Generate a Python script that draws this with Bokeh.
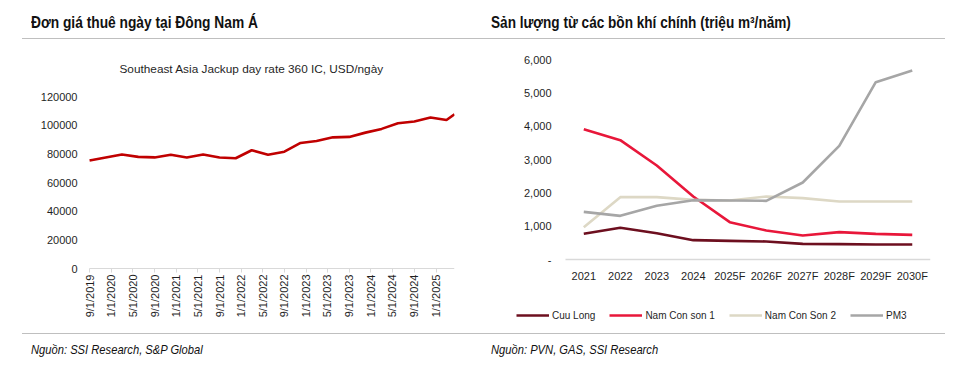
import pandas as pd
from bokeh.plotting import figure
from bokeh.layouts import column, row
from bokeh.models import (Div, Range1d, FixedTicker, BasicTickFormatter,
                          NumeralTickFormatter, Label, Legend, LegendItem)
from bokeh.embed import file_html
from bokeh.resources import INLINE
import math

# ---------------- data ----------------
left_title = "Đơn giá thuê ngày tại Đông Nam Á"
left_subtitle = "Southeast Asia Jackup day rate 360 IC, USD/ngày"
left_source = "Nguồn: SSI Research, S&P Global"
rate_dates = ["2019-09-01", "2019-12-01", "2020-03-01", "2020-06-01", "2020-09-01", "2020-12-01",
              "2021-03-01", "2021-06-01", "2021-09-01", "2021-12-01", "2022-03-01", "2022-06-01",
              "2022-09-01", "2022-12-01", "2023-03-01", "2023-06-01", "2023-09-01", "2023-12-01",
              "2024-03-01", "2024-06-01", "2024-09-01", "2024-12-01", "2025-03-01", "2025-04-15"]
rate_values = [75300, 77500, 79500, 77900, 77500, 79300,
               77500, 79600, 77400, 76900, 82500, 79300,
               81500, 87600, 89000, 91500, 91800, 94800,
               97400, 101300, 102600, 105400, 103600, 107600]
rate_tick_dates = ["2019-09-01", "2020-01-01", "2020-05-01", "2020-09-01", "2021-01-01", "2021-05-01",
                   "2021-09-01", "2022-01-01", "2022-05-01", "2022-09-01", "2023-01-01", "2023-05-01",
                   "2023-09-01", "2024-01-01", "2024-05-01", "2024-09-01", "2025-01-01"]
rate_tick_labels = ["9/1/2019", "1/1/2020", "5/1/2020", "9/1/2020", "1/1/2021", "5/1/2021",
                    "9/1/2021", "1/1/2022", "5/1/2022", "9/1/2022", "1/1/2023", "5/1/2023",
                    "9/1/2023", "1/1/2024", "5/1/2024", "9/1/2024", "1/1/2025"]
rate_y_ticks = [0, 20000, 40000, 60000, 80000, 100000, 120000]

right_title = "Sản lượng từ các bồn khí chính (triệu m³/năm)"
right_source = "Nguồn: PVN, GAS, SSI Research"
years = ["2021", "2022", "2023", "2024", "2025F", "2026F", "2027F", "2028F", "2029F", "2030F"]
cuu_long = [770, 950, 790, 580, 560, 540, 470, 460, 450, 450]
nam_con_son_1 = [3910, 3580, 2820, 1890, 1120, 870, 720, 820, 770, 740]
nam_con_son_2 = [970, 1870, 1870, 1790, 1770, 1890, 1840, 1740, 1740, 1740]
pm3 = [1430, 1310, 1610, 1780, 1770, 1760, 2310, 3410, 5320, 5670]
series_names = ["Cuu Long", "Nam Con son 1", "Nam Con Son 2", "PM3"]
series_values = [cuu_long, nam_con_son_1, nam_con_son_2, pm3]
series_colors = ["#6d0f1f", "#e8173a", "#ddd8c5", "#a6a6a6"]
gas_y_ticks = [0, 1000, 2000, 3000, 4000, 5000, 6000]

FONT = "Liberation Sans"
TXT = "#1f1f1f"
AX = "#d9d9d9"

# Bokeh aligns the frames of plots sharing a row, so both frames span the same
# vertical band; axes are pinned at value 0 with fixed_location.
LEFT_Y = (-39767, 152093)     # 0 at 268 px, 120000 at 96 px (page)
LEFT_X_PAD = -51              # days of white space left of the first tick
RIGHT_Y = (-1980, 6270)       # 0 at 259 px, 6000 at 59 px (page)
RIGHT_X = (-2.282, 9.5)       # category centres 36.5 px apart

# ---------------- left chart ----------------
start = pd.Timestamp(rate_dates[0])
def days(d):
    return (pd.Timestamp(d) - start).days

rx = [days(d) for d in rate_dates]
tx = [days(d) for d in rate_tick_dates]

p1 = figure(width=472, height=294, output_backend="svg", toolbar_location=None,
            x_range=Range1d(LEFT_X_PAD, rx[-1]), y_range=Range1d(*LEFT_Y),
            min_border_left=72, min_border_right=26, min_border_top=11, min_border_bottom=8)
p1.outline_line_color = None
p1.grid.grid_line_color = None
p1.line(rx, rate_values, line_color="#c00000", line_width=2.6)

p1.xaxis.fixed_location = 0
p1.xaxis.bounds = (rx[0], rx[-1])
p1.xaxis.ticker = FixedTicker(ticks=tx)
p1.xaxis.major_label_overrides = {t: l for t, l in zip(tx, rate_tick_labels)}
p1.xaxis.major_label_orientation = math.pi / 2
p1.xaxis.axis_line_color = AX
p1.xaxis.major_tick_line_color = AX
p1.xaxis.major_tick_out = 4
p1.xaxis.major_tick_in = 0
p1.xaxis.minor_tick_line_color = None
p1.xaxis.major_label_standoff = 2
p1.xaxis.major_label_text_font = FONT
p1.xaxis.major_label_text_font_size = "11px"
p1.xaxis.major_label_text_color = TXT

p1.yaxis.ticker = FixedTicker(ticks=rate_y_ticks)
p1.yaxis.formatter = BasicTickFormatter(use_scientific=False)
p1.yaxis.axis_line_color = None
p1.yaxis.major_tick_line_color = None
p1.yaxis.minor_tick_line_color = None
p1.yaxis.major_tick_out = 0
p1.yaxis.major_label_standoff = 3
p1.yaxis.major_label_text_font = FONT
p1.yaxis.major_label_text_font_size = "11px"
p1.yaxis.major_label_text_color = TXT

p1.add_layout(Label(x=39, y=257, x_units="screen", y_units="screen", text=left_subtitle,
                    text_font=FONT, text_font_size="11.8px", text_color=TXT,
                    text_baseline="middle"))

# ---------------- right chart ----------------
xi = list(range(len(years)))
p2 = figure(width=477, height=294, output_backend="svg", toolbar_location=None,
            x_range=Range1d(*RIGHT_X), y_range=Range1d(*RIGHT_Y),
            min_border_left=20, min_border_right=27, min_border_top=11, min_border_bottom=8)
p2.outline_line_color = None
p2.grid.grid_line_color = None
items = []
for name, vals, col in zip(series_names, series_values, series_colors):
    r = p2.line(xi, vals, line_color=col, line_width=2.6)
    items.append(LegendItem(label=name, renderers=[r]))

p2.xaxis.fixed_location = 0
p2.xaxis.bounds = (-0.5, len(years) - 0.5)
p2.xaxis.ticker = FixedTicker(ticks=xi)
p2.xaxis.major_label_overrides = {i: y for i, y in zip(xi, years)}
p2.xaxis.axis_line_color = AX
p2.xaxis.axis_line_width = 1.5
p2.xaxis.major_tick_line_color = None
p2.xaxis.minor_tick_line_color = None
p2.xaxis.major_tick_out = 0
p2.xaxis.major_label_standoff = 10
p2.xaxis.major_label_text_font = FONT
p2.xaxis.major_label_text_font_size = "11px"
p2.xaxis.major_label_text_color = TXT

p2.yaxis.fixed_location = -0.5
p2.yaxis.ticker = FixedTicker(ticks=gas_y_ticks)
p2.yaxis.formatter = NumeralTickFormatter(format="0,0")
p2.yaxis.major_label_overrides = {0: "-"}
p2.yaxis.axis_line_color = None
p2.yaxis.major_tick_line_color = None
p2.yaxis.minor_tick_line_color = None
p2.yaxis.major_tick_out = 0
p2.yaxis.major_label_standoff = 14
p2.yaxis.major_label_text_font = FONT
p2.yaxis.major_label_text_font_size = "11px"
p2.yaxis.major_label_text_color = TXT

legend = Legend(items=items, orientation="horizontal", location=(16, 3),
                glyph_width=33, glyph_height=14, label_height=14, label_standoff=3,
                spacing=14, padding=0, margin=0, border_line_color=None,
                background_fill_alpha=0,
                label_text_font=FONT, label_text_font_size="10px", label_text_color=TXT)
p2.add_layout(legend, "center")

# ---------------- titles & sources ----------------
def span(left, top, size, extra, txt, sx):
    return (f'<span style="position:absolute;left:{left}px;top:{top}px;font-size:{size}px;'
            f'line-height:{size}px;{extra}color:#111;white-space:nowrap;display:inline-block;'
            f'transform:scaleX({sx});transform-origin:0 0;">{txt}</span>')

title_html = (f'<div style="position:relative;width:949px;height:31px;font-family:\'Liberation Sans\',sans-serif;">'
              + span(23, 7, 16, "font-weight:bold;", left_title, 0.86)
              + span(483, 7, 16, "font-weight:bold;", right_title, 0.85)
              + '<div style="position:absolute;left:14px;top:30px;width:923px;height:0;border-top:1px solid #bfbfbf;"></div></div>')
src_html = (f'<div style="position:relative;width:949px;height:37px;font-family:\'Liberation Sans\',sans-serif;">'
            + '<div style="position:absolute;left:14px;top:0px;width:923px;height:0;border-top:1px solid #bfbfbf;"></div>'
            + span(23, 10, 13, "font-style:italic;", left_source, 0.86)
            + span(483, 10, 13, "font-style:italic;", right_source, 0.86)
            + '</div>')
title_div = Div(text=title_html, width=949, height=31, margin=(0, 0, 0, 0))
src_div = Div(text=src_html, width=949, height=37, margin=(0, 0, 0, 0))

layout = column(title_div, row(p1, p2, spacing=0), src_div, spacing=0, margin=(8, 0, 0, 8))

open("out.html", "w").write(file_html(layout, INLINE))
